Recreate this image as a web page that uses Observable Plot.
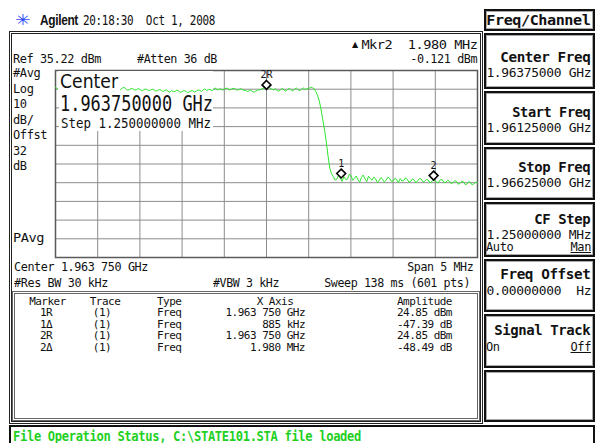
<!DOCTYPE html>
<html><head><meta charset="utf-8">
<script src="https://cdn.jsdelivr.net/npm/d3@7"></script>
<script src="https://cdn.jsdelivr.net/npm/@observablehq/plot@0.6"></script>
<style>
html,body{margin:0;padding:0;background:#fff;}
#screen{position:relative;width:598px;height:443px;overflow:hidden;background:#fff;font-family:"DejaVu Sans Mono",monospace;color:#111;}
.t{position:absolute;white-space:pre;letter-spacing:-0.4px;}
.box{position:absolute;box-sizing:border-box;}
</style></head><body><div id="screen"></div>
<script>
// ---- data ----
const startFreqMHz = 1961.25;
const stopFreqMHz = 1966.25;
const traceAmp = [
  26.3, 25.4, 25.9, 26.1, 25.2, 25.8, 25.5, 24.6, 24.9, 25.7,
  25.4, 24.7, 25.0, 25.9, 25.6, 24.8, 25.1, 25.5, 24.8, 24.3,
  25.3, 25.9, 25.0, 24.4, 25.5, 25.0, 24.9, 25.8, 25.2, 24.6,
  25.4, 25.9, 24.8, 24.3, 25.1, 25.7, 25.6, 25.0, 25.8, 26.2,
  25.3, 24.7, 25.0, 25.6, 25.4, 24.8, 24.9, 25.5, 25.2, 24.4,
  24.8, 25.3, 25.1, 24.5, 24.7, 25.2, 24.9, 24.2, 24.5, 25.0,
  24.8, 24.0, 24.4, 24.9, 24.1, 23.6, 24.5, 24.0, 24.0, 24.7,
  24.3, 23.5, 23.9, 24.5, 24.2, 23.4, 23.8, 24.3, 24.4, 23.7,
  24.1, 24.8, 24.6, 24.0, 24.9, 25.4, 24.5, 25.1, 25.0, 24.4,
  25.3, 25.9, 24.8, 25.2, 25.4, 24.7, 25.1, 25.8, 25.6, 24.9,
  25.2, 25.7, 25.5, 24.8, 24.9, 25.4, 25.3, 24.5, 24.6, 24.1,
  24.2, 24.8, 24.0, 23.6, 24.3, 24.9, 24.7, 25.3, 25.6, 26.1,
  24.85, 26.3, 25.8, 25.2, 24.9, 25.5, 24.6, 24.1, 25.0, 25.6,
  24.7, 24.2, 25.1, 25.7, 24.8, 24.3, 25.2, 25.8, 24.9, 24.4,
  25.3, 25.9, 25.0, 25.5, 25.6, 26.2, 26.0, 25.6, 24.0, 22.0,
  19.0, 14.5, 9.0, 3.5, -3.0, -10.5, -17.0, -20.0, -21.5, -23.4,
  -22.8, -20.9, -22.3, -24.1, -21.6, -23.0, -22.9, -20.4, -20.8, -23.5,
  -22.4, -21.2, -23.2, -24.5, -21.9, -20.7, -22.7, -24.2, -21.3, -22.6,
  -23.4, -21.8, -22.6, -24.7, -23.8, -22.1, -22.9, -24.4, -23.5, -21.9,
  -22.4, -24.0, -23.9, -22.5, -23.1, -24.8, -22.6, -23.9, -23.7, -22.2,
  -22.9, -24.5, -24.1, -22.7, -23.3, -24.9, -23.8, -22.6, -22.8, -24.3,
  -24.0, -23.0, -23.4, -25.0, -23.9, -23.64, -23.6, -24.9, -24.4, -23.1,
  -23.2, -24.8, -24.6, -23.5, -23.9, -25.3, -24.8, -23.7, -24.1, -25.6,
  -25.2, -24.0, -24.3, -25.8, -25.5, -24.2, -24.6, -26.0, -25.3, -24.5,
  -24.8
];
const xGridMHz = [1961.25, 1961.75, 1962.25, 1962.75, 1963.25, 1963.75, 1964.25, 1964.75, 1965.25, 1965.75, 1966.25];
const yGridDbm = [35.22, 25.22, 15.22, 5.22, -4.78, -14.78, -24.78, -34.78, -44.78, -54.78, -64.78];
const markerLabels = ["2R", "1", "2"];
const markerFreqMHz = [1963.75, 1964.635, 1965.73];
const markerAmp = [24.85, -22.54, -23.64];

const tableHeader = ["Marker", "Trace", "Type", "X Axis", "Amplitude"];
const tableMarker = ["1R", "1Δ", "2R", "2Δ"];
const tableTrace = ["(1)", "(1)", "(1)", "(1)"];
const tableType = ["Freq", "Freq", "Freq", "Freq"];
const tableX = ["1.963 750 GHz", "885 kHz", "1.963 750 GHz", "1.980 MHz"];
const tableAmp = ["24.85 dBm", "-47.39 dB", "24.85 dBm", "-48.49 dB"];

const leftLabels = ["#Avg", "Log", "10", "dB/", "Offst", "32", "dB"];

// ---- helpers ----
const screen = document.getElementById("screen");
function txt(x, yc, s, o = {}) {
  const size = o.size || 12;
  const d = document.createElement("div");
  d.className = "t";
  d.textContent = s;
  d.style.fontSize = size + "px";
  d.style.lineHeight = size + "px";
  if (o.bold) d.style.fontWeight = "bold";
  if (o.family) d.style.fontFamily = o.family;
  if (o.color) d.style.color = o.color;
  if (o.ls !== undefined) d.style.letterSpacing = o.ls + "px";
  if (o.underline) d.style.textDecoration = "underline";
  d.style.top = (yc - 0.5 * size) + "px";
  d.style.left = "0px";
  screen.appendChild(d);
  const wid = d.getBoundingClientRect().width;
  const anchor = o.anchor || "start";
  const left = anchor === "end" ? x - wid : anchor === "middle" ? x - wid / 2 : x;
  d.style.left = left + "px";
  d.style.transformOrigin = anchor === "end" ? "right center" : anchor === "middle" ? "center center" : "left center";
  if (o.w) d.style.transform = `scaleX(${o.w / wid})`;
  return d;
}
function box(x1, y1, x2, y2, css) {
  const d = document.createElement("div");
  d.className = "box";
  Object.assign(d.style, {left: x1 + "px", top: y1 + "px", width: (x2 - x1) + "px", height: (y2 - y1) + "px"}, css);
  screen.appendChild(d);
  return d;
}

// ---- frames ----
box(9, 31, 483, 424, {border: "3px double #222"});
box(12, 291, 480, 421, {border: "3px double #666"});
const keyCss = {border: "2px solid #111", boxShadow: "inset 0 0 0 1px #aaa"};
box(484, 9, 595, 31, keyCss);
const keyBoxes = [[33, 89], [91, 145], [147, 200], [202, 257], [259, 312], [314, 368], [370, 422]];
keyBoxes.forEach(([a, b]) => box(484, a, 595, b, keyCss));
box(9, 425, 595, 446, {border: "2px solid #111"});

// ---- header ----
txt(15, 20, "✳", {size: 15, color: "#2b4cff", family: "DejaVu Sans", w: 15});
txt(40, 20, "Agilent", {size: 14, bold: true, family: "Liberation Sans", w: 38});
txt(83, 20, "20:18:30  Oct 1, 2008", {size: 14, w: 132});

// ---- main box texts ----
txt(352, 45, "▲", {size: 8, family: "DejaVu Sans"});
txt(477, 45, "Mkr2  1.980 MHz", {size: 12, anchor: "end", w: 116});
txt(13, 59, "Ref 35.22 dBm", {size: 12, w: 88});
txt(137, 59, "#Atten 36 dB", {size: 12, w: 80});
txt(477, 59, "-0.121 dBm", {size: 12, anchor: "end", w: 67});
const leftY = [73, 88.5, 104, 119.5, 135, 150.5, 166];
leftLabels.forEach((s, i) => txt(13, leftY[i], s, {size: 12}));
txt(13, 238, "PAvg", {size: 12, w: 31});
txt(14, 267, "Center 1.963 750 GHz", {size: 12, w: 134});
txt(473, 267, "Span 5 MHz", {size: 12, anchor: "end", w: 66});
txt(14, 283, "#Res BW 30 kHz", {size: 12, w: 94});
txt(213, 283, "#VBW 3 kHz", {size: 12, w: 66});
txt(470, 283, "Sweep 138 ms (601 pts)", {size: 12, anchor: "end", w: 146});

// ---- marker table ----
const rowY = [312.5, 324, 335.5, 347];
const tOpt = {size: 11, ls: -0.5};
txt(47.5, 301, tableHeader[0], {...tOpt, anchor: "middle"});
txt(105, 301, tableHeader[1], {...tOpt, anchor: "middle"});
txt(157, 301, tableHeader[2], tOpt);
txt(275, 301, tableHeader[3], {...tOpt, anchor: "middle"});
txt(452, 301, tableHeader[4], {...tOpt, anchor: "end"});
rowY.forEach((y, i) => {
  txt(46, y, tableMarker[i], {...tOpt, anchor: "middle"});
  txt(102, y, tableTrace[i], {...tOpt, anchor: "middle"});
  txt(157, y, tableType[i], tOpt);
  txt(305, y, tableX[i], {...tOpt, anchor: "end"});
  txt(452, y, tableAmp[i], {...tOpt, anchor: "end"});
});

// ---- softkeys ----
txt(590, 20, "Freq/Channel", {size: 14, bold: true, anchor: "end", w: 104});
const kt = {size: 14, bold: true, anchor: "end"};
const kv = {size: 13, anchor: "end", ls: -0.3};
txt(590, 57, "Center Freq", {...kt, w: 90});
txt(591, 72, "1.96375000 GHz", {...kv, w: 105});
txt(590, 112, "Start Freq", {...kt, w: 78});
txt(591, 127, "1.96125000 GHz", {...kv, w: 105});
txt(590, 167, "Stop Freq", {...kt, w: 72});
txt(591, 182, "1.96625000 GHz", {...kv, w: 105});
txt(590, 219, "CF Step", {...kt, w: 56});
txt(591, 234, "1.25000000 MHz", {...kv, w: 105});
txt(486, 247, "Auto", {size: 12});
txt(591, 247, "Man", {size: 12, anchor: "end", underline: true});
txt(590, 274, "Freq Offset", {...kt, w: 90});
txt(591, 290, "0.00000000  Hz", {...kv, w: 105});
txt(590, 330, "Signal Track", {...kt, w: 96});
txt(486, 347, "On", {size: 12});
txt(591, 347, "Off", {size: 12, anchor: "end", underline: true});

// ---- status bar ----
txt(13, 435.5, "File Operation Status, C:\\STATE101.STA file loaded", {size: 14, bold: true, color: "#1fd01f", w: 348});

// ---- plot ----
const trace = traceAmp.map((a, i) => ({f: startFreqMHz + i * (stopFreqMHz - startFreqMHz) / (traceAmp.length - 1), a}));
const markers = markerLabels.map((l, i) => ({label: l, f: markerFreqMHz[i], a: markerAmp[i]}));

function centerBackdrop() {
  const g = d3.create("svg:g");
  g.append("rect").attr("x", 4).attr("y", 1).attr("width", 154).attr("height", 60).attr("fill", "white");
  return g.node();
}
function centerLabel() {
  const g = d3.create("svg:g").attr("font-family", "DejaVu Sans").attr("fill", "#111").attr("text-anchor", "start");
  g.append("rect").attr("x", 3).attr("y", 1).attr("width", 62).attr("height", 20).attr("fill", "white");
  g.append("text").attr("x", 5).attr("y", 18).attr("font-size", 20).attr("text-anchor", "start").attr("textLength", 58).attr("lengthAdjust", "spacingAndGlyphs").text("Center");
  g.append("text").attr("x", 5).attr("y", 41).attr("font-size", 21).attr("text-anchor", "start").attr("font-family", "DejaVu Sans Mono").attr("textLength", 153).attr("lengthAdjust", "spacingAndGlyphs").text("1.963750000 GHz");
  g.append("text").attr("x", 6).attr("y", 58).attr("font-size", 14).attr("text-anchor", "start").attr("font-family", "DejaVu Sans Mono").attr("textLength", 150).attr("lengthAdjust", "spacingAndGlyphs").text("Step 1.250000000 MHz");
  return g.node();
}

const plot = Plot.plot({
  width: 422, height: 187,
  marginTop: 0, marginRight: 0, marginBottom: 0, marginLeft: 0,
  x: {domain: [startFreqMHz, stopFreqMHz], axis: null},
  y: {domain: [yGridDbm[yGridDbm.length - 1], yGridDbm[0]], axis: null},
  style: {overflow: "visible", background: "transparent"},
  marks: [
    Plot.ruleX(xGridMHz, {stroke: "#8c8c8c", strokeWidth: 1}),
    Plot.ruleY(yGridDbm, {stroke: "#8c8c8c", strokeWidth: 1}),
    Plot.frame({stroke: "#5a5a5a", strokeWidth: 1.5}),
    centerBackdrop,
    Plot.line(trace, {x: "f", y: "a", stroke: "#2ee62e", strokeWidth: 1}),
    centerLabel,
    Plot.dot(markers, {x: "f", y: "a", symbol: "diamond2", r: 4, stroke: "#000", strokeWidth: 1.6, fill: "white", dy: -5}),
    Plot.text(markers, {x: "f", y: "a", text: "label", dy: -15, fontSize: 10, fill: "#111", fontFamily: "DejaVu Sans Mono"})
  ]
});
const holder = document.createElement("div");
Object.assign(holder.style, {position: "absolute", left: "55px", top: "70px"});
holder.appendChild(plot);
screen.appendChild(holder);
</script></body></html>
